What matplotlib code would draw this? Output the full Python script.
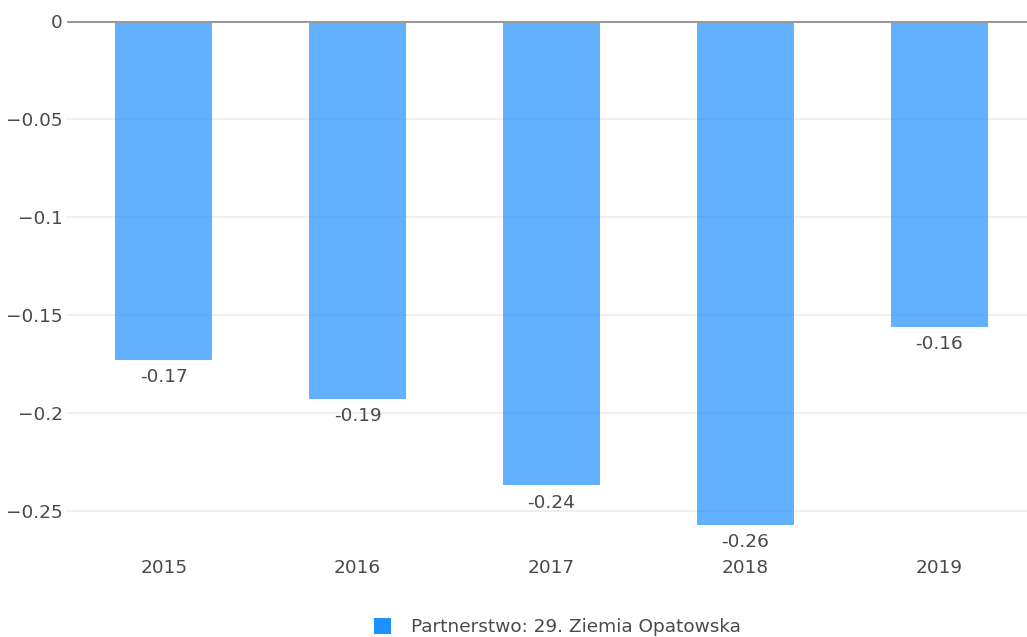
import matplotlib as mpl
mpl.use('Agg')
import matplotlib.pyplot as plt
from matplotlib.patches import Patch

# values
years = ['2015', '2016', '2017', '2018', '2019']
values = [-0.173, -0.193, -0.237, -0.257, -0.156]
labels = ['-0.17', '-0.19', '-0.24', '-0.26', '-0.16']
yticks = [0, -0.05, -0.1, -0.15, -0.2, -0.25]
ytick_labels = ['0', '\u22120.05', '\u22120.1', '\u22120.15', '\u22120.2', '\u22120.25']
series_name = 'Partnerstwo: 29. Ziemia Opatowska'

plt.rcParams['font.family'] = ['DejaVu Sans']
txt = '#4a4a4a'
fs = 13.3

fig = plt.figure(figsize=(10.27, 6.37), dpi=100)
ax = fig.add_axes([0.0652, 0.1397, 0.9436, 0.8273])

x = list(range(len(years)))
ax.bar(x, values, width=0.5, color='#1E90FF', alpha=0.7, zorder=2)

for xi, v, lab in zip(x, values, labels):
    ax.annotate(lab, (xi, v), xytext=(0, -6), textcoords='offset points',
                ha='center', va='top', fontsize=fs, color=txt)

ax.set_xlim(-0.5, 4.5)
ax.set_ylim(-0.269, 0)
ax.set_xticks(x)
ax.set_xticklabels(years)
ax.set_yticks(yticks)
ax.set_yticklabels(ytick_labels)
ax.tick_params(axis='x', length=0, pad=8, labelsize=fs, labelcolor=txt)
ax.tick_params(axis='y', length=0, pad=3, labelsize=fs, labelcolor=txt)

ax.grid(axis='y', color='#eeeeee', linewidth=1.3, zorder=0)
ax.axhline(0, color='#999999', linewidth=2.2, zorder=3)
for s in ax.spines.values():
    s.set_visible(False)

handle = Patch(facecolor='#1E90FF', edgecolor='none')
fig.legend([handle], [series_name], loc='center',
           bbox_to_anchor=(557 / 1027, 1 - 627 / 637), frameon=False,
           handlelength=0.95, handleheight=0.95, handletextpad=1.05,
           prop={'size': fs}, labelcolor=txt)

fig.savefig('out.png', dpi=100)
